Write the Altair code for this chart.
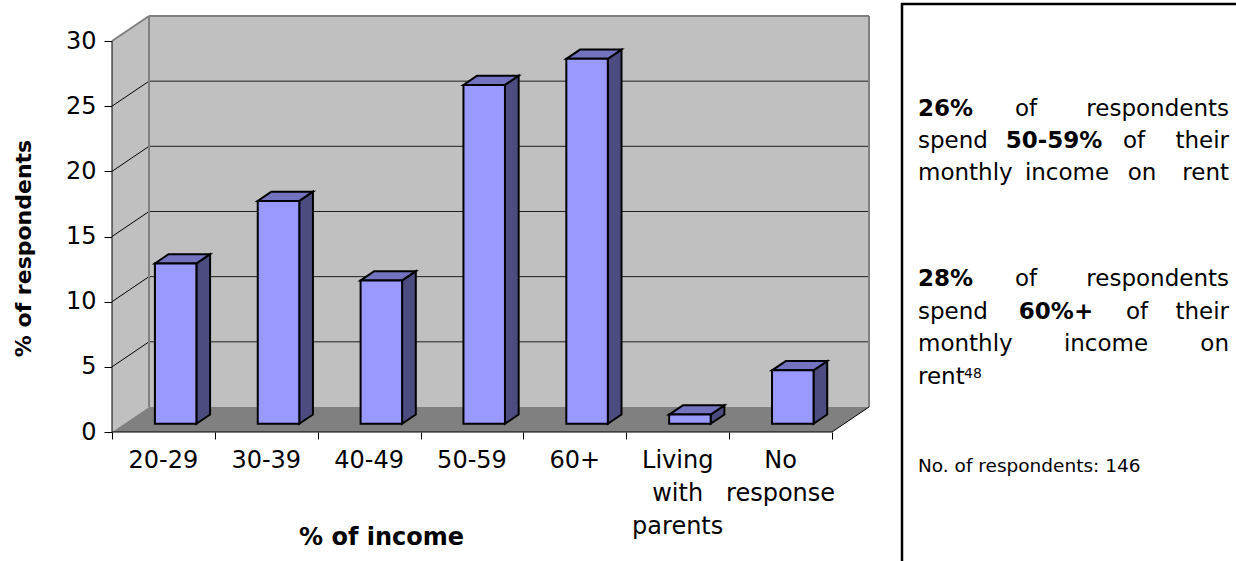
import altair as alt
import pandas as pd

# ---- data -------------------------------------------------------------
categories = ["20-29", "30-39", "40-49", "50-59", "60+",
              "Living\nwith\nparents", "No\nresponse"]
pct_respondents = [12.3, 17.1, 11.0, 26.0, 28.0, 0.7, 4.1]
y_ticks = [0, 5, 10, 15, 20, 25, 30]
n_respondents = 146

# ---- 3-D frame geometry (data units) ---------------------------------
N = len(categories)
Y_TOP = 30
DX, DY = 0.36, 1.92          # depth offset of the back wall
HALF = 0.2017                # half width of a bar
D0, D1 = 0.33, 0.70          # bar front / back depth (fraction of DX, DY)

W, H = 757, 416
PAD = {"left": 112, "top": 16, "right": 1236 - 112 - W, "bottom": 561 - 16 - H}

FONT = "DejaVu Sans"
FRONT, TOP, SIDE = "#9999FF", "#7373BF", "#4C4C80"
WALL, FLOOR, EDGE = "#C0C0C0", "#808080", "#808080"

xs = alt.Scale(domain=[0, N + DX], nice=False, zero=False)
ys = alt.Scale(domain=[0, Y_TOP + DY], nice=False, zero=False)

x_axis = alt.Axis(values=list(range(N + 1)), labels=False, domain=False, grid=False,
                  tickSize=7, tickColor="black", tickWidth=1,
                  title="% of income", titleFont=FONT, titleFontSize=24,
                  titleFontWeight="bold", titleColor="black",
                  titleX=381 - PAD["left"], titleY=544 - 432,
                  titleBaseline="alphabetic", titleAlign="center")
y_axis = alt.Axis(values=y_ticks, domain=False, grid=False,
                  tickSize=8, tickColor="black", tickWidth=1,
                  labelFont=FONT, labelFontSize=24, labelColor="black", labelPadding=8,
                  title="% of respondents", titleFont=FONT, titleFontSize=22,
                  titleFontWeight="bold", titleColor="black",
                  titleX=23 - PAD["left"], titleY=248 - PAD["top"], titleAngle=-90,
                  titleBaseline="middle", titleAlign="center")


def X(f="x"):
    return alt.X(f"{f}:Q", scale=xs, axis=x_axis)


def Y(f="y"):
    return alt.Y(f"{f}:Q", scale=ys, axis=y_axis)


def segs(rows):
    return pd.DataFrame(rows, columns=["x", "y", "x2", "y2"])


def rules(df, color, width):
    return alt.Chart(df).mark_rule(color=color, strokeWidth=width).encode(
        x=X(), y=Y(), x2="x2:Q", y2="y2:Q")


# ---- walls and floor --------------------------------------------------
back_wall = alt.Chart(pd.DataFrame([{"x": DX, "x2": N + DX, "y": DY, "y2": Y_TOP + DY}])
                      ).mark_rect(color=WALL).encode(x=X(), x2="x2:Q", y=Y(), y2="y2:Q")

left_wall = alt.Chart(pd.DataFrame({"x": [0, DX], "y": [0, DY], "y2": [Y_TOP, Y_TOP + DY]})
                      ).mark_area(color=WALL).encode(x=X(), y=Y(), y2="y2:Q")

floor = alt.Chart(pd.DataFrame({"y": [0, DY], "x": [0, DX], "x2": [N, N + DX]})
                  ).mark_area(orient="horizontal", color=FLOOR).encode(y=Y(), x=X(), x2="x2:Q")

grid_v = [v for v in y_ticks if 0 < v < Y_TOP]
back_grid = rules(segs([(DX, v + DY, N + DX, v + DY) for v in grid_v]), "#1e1e1e", 1)
side_grid = rules(segs([(0, v, DX, v + DY) for v in grid_v]), "black", 1)
wall_edges = rules(segs([(DX, DY, DX, Y_TOP + DY),
                         (DX, Y_TOP + DY, N + DX, Y_TOP + DY),
                         (N + DX, DY, N + DX, Y_TOP + DY),
                         (0, Y_TOP, DX, Y_TOP + DY)]), EDGE, 2)
front_edges = rules(segs([(0, 0, 0, Y_TOP), (0, 0, N, 0), (N, 0, N + DX, DY)]), "black", 1)

# ---- bars ---------------------------------------------------------------
front_rows, side_rows, top_rows = [], [], []
for i, (cat, v) in enumerate(zip(categories, pct_respondents)):
    c = i + 0.5
    xl0, xr0 = c - HALF + D0 * DX, c + HALF + D0 * DX
    sx = (D1 - D0) * DX
    front_rows.append({"k": cat, "x": xl0, "x2": xr0, "y": D0 * DY, "y2": v + D0 * DY})
    side_rows += [{"k": cat, "x": xr0, "y": D0 * DY, "y2": v + D0 * DY},
                  {"k": cat, "x": xr0 + sx, "y": D1 * DY, "y2": v + D1 * DY}]
    top_rows += [{"k": cat, "y": v + D0 * DY, "x": xl0, "x2": xr0},
                 {"k": cat, "y": v + D1 * DY, "x": xl0 + sx, "x2": xr0 + sx}]

bar_stroke = dict(stroke="black", strokeWidth=2, strokeJoin="miter")
bar_side = alt.Chart(pd.DataFrame(side_rows)).mark_area(fill=SIDE, **bar_stroke).encode(
    x=X(), y=Y(), y2="y2:Q", detail="k:N")
bar_top = alt.Chart(pd.DataFrame(top_rows)).mark_area(orient="horizontal", fill=TOP, **bar_stroke).encode(
    y=Y(), x=X(), x2="x2:Q", detail="k:N")
bar_front = alt.Chart(pd.DataFrame(front_rows)).mark_rect(fill=FRONT, **bar_stroke).encode(
    x=X(), x2="x2:Q", y=Y(), y2="y2:Q")

# ---- category labels under the floor ----------------------------------
cat_labels = alt.Chart(pd.DataFrame({"x": [i + 0.5 for i in range(N)], "label": categories})
                       ).mark_text(font=FONT, fontSize=24, color="black", align="center",
                                   baseline="alphabetic", lineBreak="\n", lineHeight=33
                                   ).encode(x=X(), y=alt.value(468 - PAD["top"]), text="label:N")

# ---- note box on the right ---------------------------------------------
L, R = 918, 1229
p1, p2 = pct_respondents[3], pct_respondents[4]
note_words = [
    # text, x, baseline, align, bold, size
    (f"{p1:.0f}%", L, 116, "left", True, 23),
    ("of", 1026, 116, "center", False, 23),
    ("respondents", R, 116, "right", False, 23),
    ("spend", L, 148, "left", False, 23),
    (f"{categories[3]}%", 1054, 148, "center", True, 23),
    ("of", 1134, 148, "center", False, 23),
    ("their", R, 148, "right", False, 23),
    ("monthly", L, 180, "left", False, 23),
    ("income", 1067, 180, "center", False, 23),
    ("on", 1142, 180, "center", False, 23),
    ("rent", R, 180, "right", False, 23),
    (f"{p2:.0f}%", L, 286, "left", True, 23),
    ("of", 1026, 286, "center", False, 23),
    ("respondents", R, 286, "right", False, 23),
    ("spend", L, 318.5, "left", False, 23),
    ("60%+", 1056, 318.5, "center", True, 23),
    ("of", 1137, 318.5, "center", False, 23),
    ("their", R, 318.5, "right", False, 23),
    ("monthly", L, 351, "left", False, 23),
    ("income", 1106, 351, "center", False, 23),
    ("on", R, 351, "right", False, 23),
    ("rent", L, 383.5, "left", False, 23),
    ("48", 964, 378, "left", False, 14),
    (f"No. of respondents: {n_respondents}", L, 471.5, "left", False, 18.5),
]
notes_df = pd.DataFrame(note_words, columns=["text", "px", "py", "align", "bold", "size"])
notes_df["px"] -= PAD["left"]
notes_df["py"] -= PAD["top"]

note_layers = []
for (align, bold, size), grp in notes_df.groupby(["align", "bold", "size"]):
    note_layers.append(
        alt.Chart(grp).mark_text(font=FONT, fontSize=size, align=align, baseline="alphabetic",
                                 fontWeight="bold" if bold else "normal", color="black")
        .encode(x=alt.X("px:Q", scale=None), y=alt.Y("py:Q", scale=None), text="text:N"))

box_left = alt.Chart(pd.DataFrame({"a": [0]})).mark_rule(color="black", strokeWidth=2.5).encode(
    x=alt.value(902 - PAD["left"]), y=alt.value(3 - PAD["top"]), y2=alt.value(561))
box_top = alt.Chart(pd.DataFrame({"a": [0]})).mark_rule(color="black", strokeWidth=2.5).encode(
    x=alt.value(901 - PAD["left"]), x2=alt.value(1240 - PAD["left"]), y=alt.value(4 - PAD["top"]))

chart = alt.layer(
    back_wall, left_wall, floor, back_grid, side_grid, wall_edges, front_edges,
    bar_side, bar_top, bar_front, cat_labels, *note_layers, box_left, box_top,
).properties(
    width=W, height=H,
    autosize=alt.AutoSizeParams(type="none"),
    padding=PAD,
    background="white",
).configure_view(stroke=None)

chart.save("out.html", embed_options={"renderer": "svg", "actions": False})
